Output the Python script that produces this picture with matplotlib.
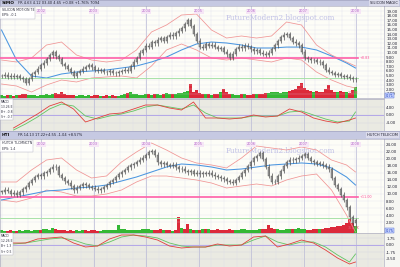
import numpy as np
import matplotlib
matplotlib.use("Agg")
import matplotlib.pyplot as plt

# ---------------- data ----------------
period_labels = ["2002", "2003", "2004", "2005", "2006", "2007", "2008"]
period_pos = [13.3, 30.7, 48.3, 65.7, 83.3, 100.7, 118.0]

simo_close = [4.9, 5.2, 4.8, 5.0, 4.7, 4.9, 4.5, 4.2, 3.4, 4.3,
              5.3, 5.8, 6.5, 7.2, 7.8, 8.6, 9.4, 10.1, 9.2, 8.6,
              7.5, 7.0, 6.4, 5.8, 5.0, 5.6, 6.0, 6.5, 6.9, 7.2,
              6.8, 6.3, 6.0, 6.2, 5.8, 5.7, 6.0, 5.6, 5.5, 5.8,
              6.0, 6.3, 6.1, 7.0, 8.0, 8.8, 10.0, 10.6, 11.5, 11.2,
              12.3, 12.0, 12.8, 13.1, 12.6, 13.4, 13.9, 13.5, 14.2, 14.8,
              15.3, 16.2, 17.0, 15.8, 14.0, 12.6, 11.3, 11.0, 11.8, 11.4,
              11.7, 11.2, 10.8, 10.9, 10.2, 9.6, 8.8, 9.8, 10.8, 11.3,
              10.9, 11.5, 11.2, 10.7, 10.3, 10.6, 10.0, 9.8, 9.5, 10.0,
              10.8, 11.6, 12.5, 13.3, 13.9, 14.0, 13.2, 12.4, 12.0, 11.6,
              10.2, 8.8, 8.5, 8.3, 8.4, 8.0, 7.9, 7.2, 6.3, 5.8,
              5.6, 5.2, 5.3, 4.9, 4.7, 4.8, 4.5, 4.2, 4.3]
simo_vol = [320, 280, 410, 300, 260, 350, 300, 420, 520, 380,
            300, 350, 280, 330, 400, 450, 380, 420, 600, 500,
            700, 450, 380, 320, 300, 280, 350, 300, 260, 310,
            280, 300, 340, 280, 250, 300, 270, 320, 290, 260,
            300, 420, 550, 650, 480, 520, 400, 380, 450, 420,
            380, 500, 450, 400, 520, 600, 480, 420, 500, 550,
            620, 700, 880, 1600, 750, 900, 600, 520, 480, 450,
            400, 420, 520, 700, 1100, 650, 500, 420, 380, 400,
            450, 480, 400, 380, 520, 450, 420, 480, 550, 600,
            700, 750, 650, 600, 680, 720, 800, 900, 1000, 1400,
            1800, 1200, 900, 800, 700, 850, 750, 700, 1100, 1500,
            900, 700, 650, 800, 750, 700, 600, 900, 1300]
smooth_idx = [0, 5, 10, 15, 20, 25, 30, 35, 40, 45, 50, 55, 60, 65, 70,
              75, 80, 85, 90, 95, 100, 105, 110, 115, 118]
simo_ma = [14.91, 8.39, 4.91, 4.48, 5.35, 5.78, 6.0, 6.22, 6.65, 7.09,
           7.96, 9.04, 10.57, 11.87, 12.30, 12.09, 11.65, 11.0, 11.0, 11.2,
           11.2, 10.57, 9.26, 7.74, 6.65]
simo_bb_up = [8.39, 7.96, 8.83, 11.65, 12.30, 9.48, 8.39, 7.96, 8.39, 10.57,
              14.48, 16.0, 18.17, 18.39, 14.91, 13.17, 13.61, 13.17, 13.61, 16.65,
              16.0, 11.65, 9.48, 7.96, 7.09]
simo_bb_lo = [3.17, 2.74, 1.43, 2.96, 4.04, 3.61, 4.48, 4.70, 4.91, 4.48,
              7.09, 10.57, 11.87, 10.57, 8.83, 8.39, 8.83, 8.39, 7.96, 8.83,
              8.39, 5.78, 4.04, 2.74, 2.30]
simo_pink_level = 8.83
simo_green_level = 4.48

hti_close = [10.6, 11.2, 10.8, 10.1, 10.4, 9.7, 10.5, 11.3, 12.0, 13.1,
             14.0, 14.8, 15.4, 15.0, 15.9, 16.3, 17.0, 17.8, 17.6, 15.4,
             14.6, 13.6, 13.2, 12.2, 11.0, 11.8, 12.3, 12.9, 12.5, 12.0,
             11.8, 11.5, 11.0, 11.3, 12.0, 12.6, 13.4, 14.0, 14.9, 15.6,
             16.3, 16.8, 17.6, 18.2, 18.6, 19.1, 19.8, 20.4, 21.0, 22.0,
             22.3, 21.2, 19.0, 18.5, 18.9, 18.3, 18.0, 18.4, 17.6, 17.0,
             17.2, 16.6, 16.2, 16.5, 15.8, 16.1, 15.6, 16.0, 15.7, 16.1,
             15.5, 15.0, 14.8, 14.5, 14.2, 13.6, 13.5, 13.2, 14.0, 14.8,
             15.9, 16.8, 17.9, 19.0, 20.2, 20.9, 21.6, 20.0, 17.8, 15.2,
             13.5, 13.4, 15.0, 16.6, 18.0, 19.0, 19.8, 19.6, 19.9, 20.4,
             20.9, 21.3, 20.3, 19.4, 19.0, 18.6, 18.7, 18.2, 17.8, 17.0,
             14.6, 12.6, 11.4, 9.8, 8.3, 6.2, 3.4, 1.6, 2.5]
hti_vol = [300, 250, 280, 320, 260, 240, 300, 280, 350, 300,
           280, 320, 380, 350, 420, 500, 380, 600, 450, 400,
           350, 300, 280, 320, 260, 300, 280, 350, 300, 280,
           320, 300, 260, 280, 300, 350, 320, 300, 400, 900,
           500, 420, 350, 300, 320, 380, 400, 450, 500, 420,
           400, 380, 350, 420, 380, 350, 300, 280, 320, 1800,
           600, 500, 1000, 450, 400, 350, 380, 420, 500, 450,
           400, 380, 420, 350, 380, 400, 420, 380, 350, 400,
           420, 450, 380, 400, 350, 380, 420, 500, 450, 900,
           600, 500, 450, 400, 380, 420, 450, 500, 480, 520,
           450, 420, 400, 380, 420, 450, 500, 480, 550, 600,
           650, 700, 800, 750, 900, 1200, 1600, 1100, 800]
hti_ma = [8.29, 9.14, 10.0, 10.86, 11.14, 11.71, 12.0, 12.57, 13.71, 14.86,
          16.29, 17.71, 18.57, 18.29, 17.71, 16.86, 17.14, 17.71, 18.29, 18.57,
          18.86, 18.57, 17.43, 14.86, 12.57]
hti_bb_up = [13.43, 13.43, 16.86, 19.71, 20.29, 16.86, 14.57, 15.14, 19.14, 22.0,
             24.57, 22.57, 20.29, 18.86, 18.29, 17.43, 20.29, 23.71, 23.14, 22.57,
             23.43, 22.57, 19.71, 18.29, 16.29]
hti_bb_lo = [8.29, 7.71, 8.86, 11.14, 10.57, 9.43, 9.43, 10.0, 11.14, 13.43,
             15.14, 15.14, 14.57, 14.0, 13.14, 11.71, 12.29, 12.86, 12.29, 14.0,
             15.14, 15.71, 11.14, 4.0, -0.86]
hti_pink_level = 9.14
hti_green_level = 3.14

ind_idx = [4, 8, 12, 16, 20, 24, 28, 32, 36, 40, 44, 48, 52, 56, 60,
           64, 68, 72, 76, 80, 84, 88, 92, 96, 100, 104, 108, 112, 116, 118]
simo_macd = [-6.84, -3.16, 0.53, 4.74, 6.84, 3.16, -3.68, -1.58, 0.53, 1.05,
             3.16, 5.26, 5.26, 3.68, 2.63, 6.84, -1.58, -1.58, -2.11, -1.58,
             0.0, -1.05, -0.53, 3.16, 1.58, -1.58, -3.16, -4.21, -2.63, -1.58]
simo_signal = [-7.89, -4.74, -1.05, 3.16, 5.79, 4.74, -0.53, -2.11, -0.53, 0.53,
               2.11, 4.21, 5.26, 4.21, 3.16, 5.26, 1.05, -1.58, -1.58, -1.58,
               -0.53, -0.53, -0.53, 1.58, 2.11, 0.0, -2.11, -3.68, -3.16, 1.58]
hti_macd = [0.5, 0.5, 1.5, 1.75, 2.0, 0.5, -0.5, -0.25, 1.5, 2.5,
            2.5, 2.0, 1.25, -0.25, -0.75, -0.5, -0.5, 0.25, -0.25, 0.0,
            2.0, 2.25, -0.5, 0.25, 1.25, 0.5, -1.25, -3.25, -4.75, -4.25]
hti_signal = [0.25, 0.5, 1.0, 1.5, 1.75, 1.25, 0.25, -0.25, 0.75, 2.0,
              2.5, 2.25, 1.75, 0.5, -0.25, -0.5, -0.5, 0.0, 0.0, 0.0,
              1.25, 2.25, 0.75, 0.0, 0.75, 0.75, -0.5, -2.5, -4.25, -2.25]

# ---------------- figure ----------------
W, H = 400, 267
fig = plt.figure(figsize=(4, 2.67), dpi=100)
fig.patch.set_facecolor("#f6f6f2")

PLOT_R = 384
XLIM = (-0.5, 127.5)
GRID_C = "#d4d4ea"
MAJ_C = "#b9b9d6"
FS = 2.9


def ax_px(x0, y0, x1, y1, **kw):
    return fig.add_axes([x0 / W, 1 - y1 / H, (x1 - x0) / W, (y1 - y0) / H], **kw)


def vgrid(ax):
    for p in period_pos:
        ax.axvline(p, color=MAJ_C, lw=0.5, zorder=0.5)
    for p in np.arange(period_pos[0] - 4 * 4.35, 128, 4.35):
        ax.axvline(p, color=GRID_C, lw=0.35, ls=(0, (1, 1)), zorder=0.4)


def header(y0, y1, tick, quote, name):
    ax = ax_px(0, y0, W, y1)
    ax.set_facecolor("#c6c9e2")
    ax.set_xticks([]); ax.set_yticks([])
    for s in ax.spines.values():
        s.set_color("#9a9cb8"); s.set_linewidth(0.4)
    ax.text(0.005, 0.5, tick, transform=ax.transAxes, fontsize=3.2, fontweight="bold",
            va="center", ha="left", color="#101010")
    ax.text(0.045, 0.5, quote, transform=ax.transAxes, fontsize=2.6,
            va="center", ha="left", color="#202030")
    ax.text(0.995, 0.5, name, transform=ax.transAxes, fontsize=2.6,
            va="center", ha="right", color="#202030",
            bbox=dict(boxstyle="square,pad=0.25", fc="#dcdcec", ec="none"))


def price_panel(y0, y1, close, vol, ma, up, lo, ylim, yticks, pink, green,
                info, pink_txt, vol_txt, box_txt, wm_y):
    # background + volume axis
    axv = ax_px(0, y0, PLOT_R, y1)
    axv.set_facecolor("#fdfdf7")
    axv.set_xlim(*XLIM)
    vol = np.asarray(vol, float)
    close = np.asarray(close, float)
    axv.set_ylim(0, vol.max() * 6.0)
    idx = np.arange(len(close))
    prev = np.r_[close[0], close[:-1]]
    cols = np.where(close >= prev, "#34b834", "#dc2a3a")
    axv.bar(idx, vol, width=1.0, color=cols, linewidth=0, zorder=2)
    axv.set_xticks([]); axv.set_yticks([])
    for s in axv.spines.values():
        s.set_visible(False)
    vgrid(axv)

    ax = ax_px(0, y0, PLOT_R, y1)
    ax.set_facecolor("none")
    ax.set_xlim(*XLIM)
    ax.set_ylim(*ylim)
    ax.set_yticks(yticks)
    ax.set_yticklabels([f"{v:.2f}" for v in yticks])
    ax.yaxis.tick_right()
    ax.tick_params(axis="y", length=0, pad=1.5, labelsize=FS, labelcolor="#202030")
    ax.set_xticks([])
    ax.grid(axis="y", color=GRID_C, lw=0.35, ls=(0, (1, 1)))
    ax.set_axisbelow(True)
    for s in ax.spines.values():
        s.set_color("#a0a0b8"); s.set_linewidth(0.4)

    # bollinger bands and MA
    ax.plot(smooth_idx, up, color="#f09494", lw=0.55, zorder=3)
    ax.plot(smooth_idx, lo, color="#f09494", lw=0.55, zorder=3)
    ax.plot(smooth_idx, ma, color="#4b96e0", lw=0.75, zorder=3)

    # levels
    ax.plot([XLIM[0], 118.8], [pink, pink], color="#ff5fa8", lw=1.2, zorder=3)
    ax.plot([XLIM[0], 118.8], [green, green], color="#a8e2a8", lw=0.7, zorder=3)
    ax.text(119.3, pink, pink_txt, fontsize=2.4, color="#ff4f9a", va="center", ha="left")
    ax.text(115.5, ylim[0] + (ylim[1] - ylim[0]) * 0.03, vol_txt, fontsize=2.4,
            color="#e06080", va="bottom", ha="left")

    # candles
    ppu = (y1 - y0) / (ylim[1] - ylim[0])
    wk = 2.3 / ppu
    hi = np.maximum(prev, close)
    lw_ = np.minimum(prev, close)
    ax.vlines(idx, lw_ - wk, hi + wk, color="#505050", lw=0.5, zorder=4)
    ax.bar(idx, np.maximum(hi - lw_, 0.5 / ppu), bottom=lw_, width=0.5,
           color="#b8b8b8", edgecolor="#4a4a4a", linewidth=0.3, zorder=5)

    # period labels
    ytop = ylim[1] - (ylim[1] - ylim[0]) * 0.055
    for p, lab in zip(period_pos, period_labels):
        ax.text(p, ytop, lab, fontsize=2.5, color="#b468c8", ha="center", va="center",
                bbox=dict(boxstyle="square,pad=0.15", fc="#f6e6f6", ec="none"), zorder=6)

    # watermark
    ax.text(93, ylim[1] - (ylim[1] - ylim[0]) * wm_y, "FutureModern2.blogspot.com",
            fontsize=5.2, family="DejaVu Serif", color="#c0c0e6", ha="center", va="center",
            zorder=2)

    # info box
    ax.text(0.004, 0.975, info, transform=ax.transAxes, fontsize=2.3, va="top", ha="left",
            color="#303040", linespacing=1.4,
            bbox=dict(boxstyle="square,pad=0.4", fc="white", ec="#b0b0c0", lw=0.3), zorder=7)

    # value box on axis
    ax.text(1.004, 0.005, box_txt, transform=ax.transAxes, fontsize=2.6, va="bottom",
            ha="left", color="#1c3cb8",
            bbox=dict(boxstyle="square,pad=0.2", fc="#c8d4ff", ec="#4060d0", lw=0.3),
            zorder=7)
    return ax


def ind_panel(y0, y1, a, b, ylim, yticks, labels, info):
    ax = ax_px(0, y0, PLOT_R, y1)
    ax.set_facecolor("#eaeae2")
    ax.set_xlim(*XLIM)
    ax.set_ylim(*ylim)
    ax.set_yticks(yticks)
    ax.set_yticklabels(labels)
    ax.yaxis.tick_right()
    ax.tick_params(axis="y", length=0, pad=1.5, labelsize=FS, labelcolor="#202030")
    ax.set_xticks([])
    ax.grid(axis="y", color="#c8c8e0", lw=0.35, ls=(0, (1, 1)))
    ax.set_axisbelow(True)
    vgrid(ax)
    ax.axhline(0, color="#b4a8e8", lw=0.7, zorder=1)
    ax.plot(ind_idx, b, color="#62c462", lw=0.6, zorder=3)
    ax.plot(ind_idx, a, color="#e0403c", lw=0.6, zorder=4)
    for s in ax.spines.values():
        s.set_color("#a0a0b8"); s.set_linewidth(0.4)
    ax.text(0.002, 0.96, info, transform=ax.transAxes, fontsize=2.2, va="top", ha="left",
            color="#303040", linespacing=1.35,
            bbox=dict(boxstyle="square,pad=0.35", fc="white", ec="#b0b0c0", lw=0.3))
    return ax


header(0, 6, "SIMO", "FR 4.63 4.12 03.40 4.65 +0.08 +1.76% 7094",
       "SILICON MAGIC")
price_panel(6, 98, simo_close, simo_vol, simo_ma, simo_bb_up, simo_bb_lo,
            (0.13, 20.13), list(range(1, 20)), simo_pink_level, simo_green_level,
            "SILICON MOTION TE\nEPS: -0.1", "+8.83", "1.53M", "0.71", 0.13)
ind_panel(99, 131, simo_macd, simo_signal, (-8.42, 8.42), [4, 0, -4],
          ["4.00", "0.00", "-4.00"], "MACD\n13.26 E\nB+ -0.8\nS+ -0.7")

header(131, 139, "HTI", "FR 14.13 17.22+4.55 -1.04 +8.57%",
       "HUTCH TELECOM")
price_panel(139, 233, hti_close, hti_vol, hti_ma, hti_bb_up, hti_bb_lo,
            (-1.14, 25.71), list(range(2, 25, 2)), hti_pink_level, hti_green_level,
            "HUTCH TLCMNCTN\nEPS: 1.4", "+11.00", "361.4K", "0.75", 0.13)
ind_panel(233, 267, hti_macd, hti_signal, (-5.5, 3.0), [1.75, 0, -1.75, -3.5],
          ["1.75", "0.00", "-1.75", "-3.50"], "MACD\n12.26 E\nB+ 1.3\nS+ 0.5")

fig.savefig("out.png", dpi=100, facecolor=fig.get_facecolor())
